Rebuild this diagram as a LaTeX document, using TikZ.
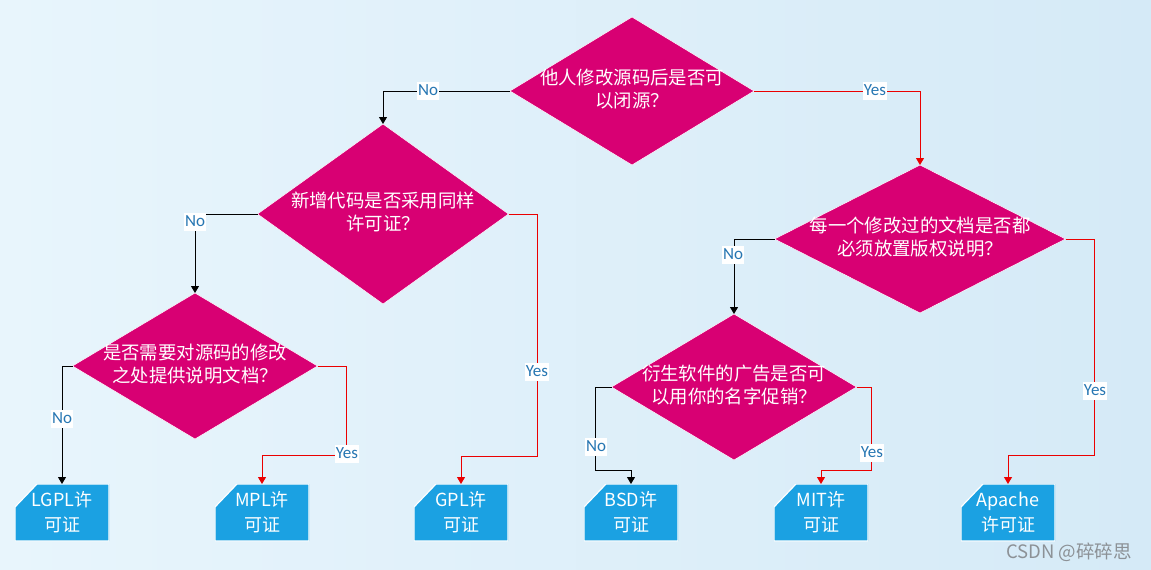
\documentclass[tikz,border=0pt]{standalone}
\usepackage{fontspec}
\newfontfamily\cjk{Noto Sans CJK SC}
\newfontfamily\lblfont{Carlito}
\usetikzlibrary{shapes.geometric, arrows.meta, calc}
\definecolor{dmag}{RGB}{216,0,115}
\definecolor{lblue}{RGB}{27,161,226}
\definecolor{ltxt}{RGB}{38,118,178}
\definecolor{lred}{RGB}{235,0,0}
\definecolor{bgl}{RGB}{232,245,252}
\definecolor{bgr}{RGB}{213,234,247}
\definecolor{wmc}{RGB}{140,145,150}
\begin{document}
\begin{tikzpicture}[x=1pt,y=-1pt,
 dia/.style={diamond, fill=dmag, draw=white, line width=0.5pt, inner sep=0pt, outer sep=0pt},
 dtxt/.style={text=white, align=center, font=\cjk\fontsize{18.4}{23}\selectfont, inner sep=0pt},
 leaf/.style={rectangle, minimum width=94pt, minimum height=57pt, inner sep=0pt, outer sep=0pt,
   align=center, text=white, font=\cjk\fontsize{18}{25}\selectfont,
   path picture={
     \fill[lblue, draw=white, line width=1.2pt] (path picture bounding box.south west) -- (path picture bounding box.south east)
       -- (path picture bounding box.north east) -- ([xshift=22pt]path picture bounding box.north west)
       -- ([yshift=-23pt]path picture bounding box.north west) -- cycle;}},
 lbl/.style={fill=white, text=ltxt, font=\lblfont\fontsize{17}{17}\selectfont, inner xsep=1pt, inner ysep=1.5pt, text height=11.5pt, text depth=3pt},
 con/.style={line width=1pt, -{Triangle[width=8pt,length=7pt]}},
 noarr/.style={con, draw=black},
 yesarr/.style={con, draw=lred},
]
\shade[left color=bgl, right color=bgr] (0,0) rectangle (1151,570);
\useasboundingbox (0,0) rectangle (1151,570);

% decisions
\node[dia, minimum width=244pt, minimum height=148pt] (d1) at (632,91) {};
\node[dia, minimum width=251pt, minimum height=180pt] (d2) at (383,214) {};
\node[dia, minimum width=291pt, minimum height=148pt] (d3) at (920,239) {};
\node[dia, minimum width=245pt, minimum height=146pt] (d4) at (195,366) {};
\node[dia, minimum width=245pt, minimum height=146pt] (d5) at (734,387) {};

\node[dtxt, yshift=2pt] (d1t) at (d1) {他人修改源码后是否可\\以闭源？};
\node[dtxt, yshift=2pt] (d2t) at (d2) {新增代码是否采用同样\\许可证？};
\node[dtxt, yshift=2pt] (d3t) at (d3) {每一个修改过的文档是否都\\必须放置版权说明？};
\node[dtxt, yshift=2pt] (d4t) at (d4) {是否需要对源码的修改\\之处提供说明文档？};
\node[dtxt, yshift=2pt] (d5t) at (d5) {衍生软件的广告是否可\\以用你的名字促销？};

% leaves
\node[leaf] (lgpl) at (62,512.5) {LGPL许\\可证};
\node[leaf] (mpl) at (262,512.5) {MPL许\\可证};
\node[leaf] (gpl) at (461,512.5) {GPL许\\可证};
\node[leaf] (bsd) at (631,512.5) {BSD许\\可证};
\node[leaf] (mit) at (821,512.5) {MIT许\\可证};
\node[leaf] (apache) at (1008,512.5) {Apache\\许可证};

% connectors
\draw[noarr] (d1.west) -| (d2.north);
\draw[yesarr] (d1.east) -| (d3.north);
\draw[noarr] (d2.west) -| (d4.north);
\draw[yesarr] (d2.east) -- ++(29,0) |- ([yshift=28pt]gpl.north) -- (gpl.north);
\draw[noarr] (d4.west) -| (lgpl.north);
\draw[yesarr] (d4.east) -- ++(29,0) |- ([yshift=29pt]mpl.north) -- (mpl.north);
\draw[noarr] (d3.west) -| (d5.north);
\draw[yesarr] (d3.east) -- ++(29,0) |- ([yshift=29pt]apache.north) -- (apache.north);
\draw[noarr] (d5.west) -- ++(-16,0) |- ([yshift=14pt]bsd.north) -- (bsd.north);
\draw[yesarr] (d5.east) -- ++(15,0) |- ([yshift=14pt]mit.north) -- (mit.north);

% labels
\node[lbl] (l1) at (428,91) {No};
\node[lbl] (l2) at (875,91) {Yes};
\node[lbl] (l3) at (195,222) {No};
\node[lbl] (l4) at (537,372) {Yes};
\node[lbl] (l5) at (62,419) {No};
\node[lbl] (l6) at (347,454) {Yes};
\node[lbl] (l7) at (733,255) {No};
\node[lbl] (l8) at (1095,391) {Yes};
\node[lbl] (l9) at (596,447) {No};
\node[lbl] (l10) at (872,453) {Yes};

% watermark
\node[text=wmc, font=\cjk\fontsize{18.5}{18.5}\selectfont, inner sep=0pt] (wm) at (1069,552) {CSDN @碎碎思};
\end{tikzpicture}
\end{document}
